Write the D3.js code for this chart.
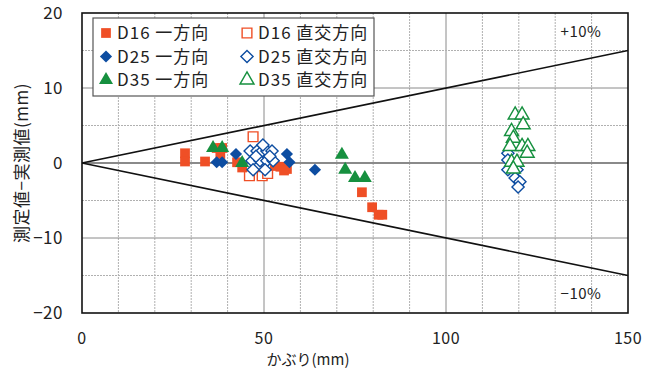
<!DOCTYPE html>
<html>
<head>
<meta charset="utf-8">
<script src="https://cdn.jsdelivr.net/npm/d3@7"></script>
<style>
body { margin: 0; background: #fff; }
text { font-family: "Noto Sans CJK JP", "DejaVu Sans", sans-serif; fill: #222; }
</style>
</head>
<body>
<svg width="654" height="369"></svg>
<script>
// series: [cover (mm), measured - actual (mm)]
var d16One = [[28.3,1.3],[28.3,0.2],[33.8,0.2],[37,2],[38.5,2],[38,1.2],[42.6,0.1],[44,-0.6],
  [53,-0.4],[54.5,-0.5],[56.3,-0.8],[55.5,-1],[76.9,-3.9],[79.7,-5.9],[81.5,-6.9],[82.5,-6.9]];
var d16Cross = [[47,3.5],[46,-1.7],[49.5,-1.7],[51,-1.4],[48,-0.5]];
var d25One = [[37,0.1],[38.5,0.1],[42.3,1.2],[56.3,1.2],[57,0.1],[64,-0.9]];
var d25Cross = [[46.2,1.6],[48.1,1.6],[49.5,1.6],[50.8,1.6],[52.2,1.6],[49.7,2.4],[46.7,0.3],[48.9,0.3],
  [50.8,0.3],[52.5,0.3],[47,-0.9],[50.3,-0.9],[47.8,0.9],[51.6,0.9],
  [117,1.3],[117,0.4],[117,-0.9],[119.5,-0.9],[119,-2],[120.3,-2.5],[119.8,-3.2]];
var d35One = [[36,2],[38.5,2],[44,0],[71.4,1.1],[72.3,-0.9],[75,-2],[77.7,-2]];
var d35Cross = [[119,6.4],[120.9,6.4],[121.2,5.1],[118,4.2],[118.5,3.3],[117.6,2.2],[120.9,2.2],
  [122.5,2.2],[122.3,1.3],[118,0.1],[119.5,0.1],[118.5,-0.8]];

var xTicks = [0, 50, 100, 150];
var yTicks = [20, 10, 0, -10, -20];
var legendNames = ["D16 一方向", "D25 一方向", "D35 一方向", "D16 直交方向", "D25 直交方向", "D35 直交方向"];

var red = "#ef4f26", blue = "#0d4da1", green = "#16903f";

var svg = d3.select("svg");
var x = d3.scaleLinear().domain([0, 150]).range([82, 628]);
var y = d3.scaleLinear().domain([-20, 20]).range([313, 13]);

// grid
var g = svg.append("g");
d3.range(10, 150, 10).forEach(function (v) {
  var major = v % 50 == 0;
  g.append("line").attr("x1", x(v)).attr("x2", x(v)).attr("y1", y(20)).attr("y2", y(-20))
    .attr("stroke", major ? "#8a8a8a" : "#b0b0b0").attr("stroke-width", 1)
    .attr("stroke-dasharray", major ? null : "2,1");
});
d3.range(-15, 20, 5).forEach(function (v) {
  var major = v % 10 == 0;
  g.append("line").attr("x1", x(0)).attr("x2", x(150)).attr("y1", y(v)).attr("y2", y(v))
    .attr("stroke", major ? "#8a8a8a" : "#b0b0b0").attr("stroke-width", v == 0 ? 2 : 1)
    .attr("stroke-dasharray", major ? null : "2,1");
});

// +-10% lines
[0.1, -0.1].forEach(function (k) {
  svg.append("line").attr("x1", x(0)).attr("y1", y(0)).attr("x2", x(150)).attr("y2", y(150 * k))
    .attr("stroke", "#111").attr("stroke-width", 1.6);
});
svg.append("text").attr("x", 581).attr("y", 37).attr("text-anchor", "middle")
  .attr("font-size", 15).attr("letter-spacing", 0.5).text("+10%");
svg.append("text").attr("x", 581).attr("y", 299).attr("text-anchor", "middle")
  .attr("font-size", 15).attr("letter-spacing", 0.5).text("−10%");

// frame
svg.append("rect").attr("x", x(0)).attr("y", y(20)).attr("width", x(150) - x(0))
  .attr("height", y(-20) - y(20)).attr("fill", "none").attr("stroke", "#111").attr("stroke-width", 1.6);

// tick labels
svg.selectAll(".yt").data(yTicks).enter().append("text")
  .attr("x", 63).attr("y", function (d) { return y(d) + 6; }).attr("text-anchor", "end")
  .attr("font-size", 17).attr("letter-spacing", 0.5)
  .text(function (d) { return d < 0 ? "−" + Math.abs(d) : d; });
svg.selectAll(".xt").data(xTicks).enter().append("text")
  .attr("x", function (d) { return x(d); }).attr("y", 344).attr("text-anchor", "middle")
  .attr("font-size", 16).attr("letter-spacing", 0.5).text(function (d) { return d; });

svg.append("text").attr("x", 308).attr("y", 365).attr("text-anchor", "middle")
  .attr("font-size", 15).text("かぶり(mm)");
svg.append("text").attr("transform", "translate(28,163) rotate(-90)").attr("text-anchor", "middle")
  .attr("font-size", 17).attr("letter-spacing", 0.5).text("測定値−実測値(mm)");

// markers
var shapes = {
  sq: d3.symbol().type(d3.symbolSquare).size(95),
  di: d3.symbol().type(d3.symbolDiamond2).size(95),
  tr: d3.symbol().type(d3.symbolTriangle).size(85)
};
function marks(data, shape, color, filled) {
  svg.append("g").selectAll("path").data(data).enter().append("path")
    .attr("transform", function (d) { return "translate(" + x(d[0]) + "," + y(d[1]) + ")"; })
    .attr("d", shapes[shape])
    .attr("fill", filled ? color : "#fff")
    .attr("stroke", color).attr("stroke-width", filled ? 0 : 1.4);
}
marks(d16Cross, "sq", red, false);
marks(d16One, "sq", red, true);
marks(d35One, "tr", green, true);
marks(d25One, "di", blue, true);
marks(d25Cross, "di", blue, false);
marks(d35Cross, "tr", green, false);

// legend
var lg = svg.append("g");
lg.append("rect").attr("x", 93).attr("y", 18).attr("width", 281).attr("height", 78)
  .attr("fill", "#fff").attr("stroke", "#555").attr("stroke-width", 1.2);
var legendStyle = [["sq", red, true], ["di", blue, true], ["tr", green, true],
  ["sq", red, false], ["di", blue, false], ["tr", green, false]];
legendNames.forEach(function (name, i) {
  var col = Math.floor(i / 3), row = i % 3;
  var lx = col == 0 ? 106 : 247, ly = 33 + row * 23.5;
  var s = legendStyle[i];
  lg.append("path")
    .attr("transform", "translate(" + lx + "," + ly + ")")
    .attr("d", shapes[s[0]]).attr("fill", s[2] ? s[1] : "#fff")
    .attr("stroke", s[1]).attr("stroke-width", s[2] ? 0 : 1.4);
  lg.append("text").attr("x", lx + 11).attr("y", ly + 6).attr("font-size", 17)
    .attr("letter-spacing", 1).text(name);
});
</script>
</body>
</html>
